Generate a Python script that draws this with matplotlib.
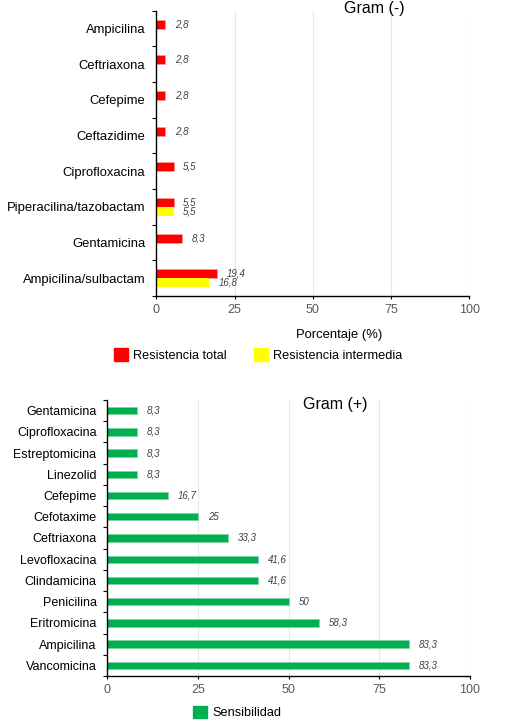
import matplotlib
matplotlib.use("Agg")
import matplotlib.pyplot as plt
from matplotlib.patches import Patch
import numpy as np

plt.rcParams['font.family'] = ['Liberation Sans', 'DejaVu Sans']

# Gram (-) data
neg_drugs = ['Ampicilina', 'Ceftriaxona', 'Cefepime', 'Ceftazidime', 'Ciprofloxacina',
             'Piperacilina/tazobactam', 'Gentamicina', 'Ampicilina/sulbactam']
neg_total = [2.8, 2.8, 2.8, 2.8, 5.5, 5.5, 8.3, 19.4]
neg_inter = [0, 0, 0, 0, 0, 5.5, 0, 16.8]

# Gram (+) data
pos_drugs = ['Gentamicina', 'Ciprofloxacina', 'Estreptomicina', 'Linezolid', 'Cefepime',
             'Cefotaxime', 'Ceftriaxona', 'Levofloxacina', 'Clindamicina', 'Penicilina',
             'Eritromicina', 'Ampicilina', 'Vancomicina']
pos_sens = [8.3, 8.3, 8.3, 8.3, 16.7, 25, 33.3, 41.6, 41.6, 50, 58.3, 83.3, 83.3]

xticks = [0, 25, 50, 75, 100]

RED = '#FF0000'
YELLOW = '#FFFF00'
GREEN = '#00B050'
W, H = 505, 727


def fmt(v):
    return f"{v:g}".replace('.', ',')


def style_axes(ax, n, label_pad):
    ax.set_xlim(0, 100)
    ax.set_ylim(n - 0.5, -0.5)
    ax.set_xticks(xticks)
    ax.set_yticks(np.arange(n))
    ax.set_yticks(np.arange(n + 1) - 0.5, minor=True)
    ax.tick_params(axis='y', which='major', length=0, pad=label_pad, labelsize=9.4, labelcolor='black')
    ax.tick_params(axis='y', which='minor', length=3, width=0.8, direction='out')
    ax.tick_params(axis='x', which='major', length=2.5, width=0.8, pad=3, labelsize=9, labelcolor='#595959')
    for s in ['top', 'right']:
        ax.spines[s].set_visible(False)
    for s in ['left', 'bottom']:
        ax.spines[s].set_linewidth(1.0)
    for x in xticks[1:]:
        ax.axvline(x, color='#E8E8E8', lw=0.8, zorder=0)


def add_value(ax, v, y):
    ax.annotate(fmt(v), (v, y), xytext=(7, 0), textcoords='offset points',
                ha='left', va='center', fontsize=7, style='italic', color='#404040')


fig = plt.figure(figsize=(W / 100, H / 100), dpi=100)

# top chart: Gram (-)
ax1 = fig.add_axes([156.3 / W, 1 - 296 / H, 313 / W, 285.3 / H])
n1 = len(neg_drugs)
y1 = np.arange(n1)
bh = 0.25
ax1.barh(y1 - bh / 2, neg_total, height=bh, color=RED, edgecolor='#FF9999', linewidth=0.5, zorder=2)
ax1.barh(y1 + bh / 2, neg_inter, height=bh, color=YELLOW, linewidth=0, zorder=2)
for i in range(n1):
    if neg_total[i] > 0:
        add_value(ax1, neg_total[i], y1[i] - bh / 2)
    if neg_inter[i] > 0:
        add_value(ax1, neg_inter[i], y1[i] + bh / 2)
style_axes(ax1, n1, 8)
ax1.set_yticklabels(neg_drugs)
ax1.set_xlabel('Porcentaje (%)', fontsize=9.4, labelpad=8)
ax1.xaxis.set_label_coords((339 - 156.3) / 313, -0.115)
fig.text(374 / W, 1 - 9 / H, 'Gram (-)', ha='center', va='center', fontsize=11.5)
fig.legend(handles=[Patch(color=RED), Patch(color=YELLOW)],
           labels=['Resistencia total', 'Resistencia intermedia'],
           loc='center', bbox_to_anchor=(258 / W, 1 - 355 / H), ncol=2, frameon=False,
           fontsize=9.2, handlelength=1.1, handleheight=1.1, handletextpad=0.4,
           columnspacing=2.1, borderpad=0, borderaxespad=0)

# bottom chart: Gram (+)
ax2 = fig.add_axes([107.3 / W, 1 - 676 / H, 362.7 / W, 276 / H])
n2 = len(pos_drugs)
y2 = np.arange(n2)
ax2.barh(y2, pos_sens, height=0.35, color=GREEN, edgecolor='#7FD4A0', linewidth=0.5, zorder=2)
for i in range(n2):
    add_value(ax2, pos_sens[i], y2[i])
style_axes(ax2, n2, 7.7)
ax2.set_yticklabels(pos_drugs)
ax2.tick_params(axis='y', which='major', labelsize=9)
fig.text(335 / W, 1 - 405 / H, 'Gram (+)', ha='center', va='center', fontsize=11.5)
fig.legend(handles=[Patch(color=GREEN)], labels=['Sensibilidad'],
           loc='center', bbox_to_anchor=(237.5 / W, 1 - 712.5 / H), frameon=False,
           fontsize=9.2, handlelength=1.1, handleheight=1.1, handletextpad=0.4,
           borderpad=0, borderaxespad=0)

fig.savefig('out.png', dpi=100)
